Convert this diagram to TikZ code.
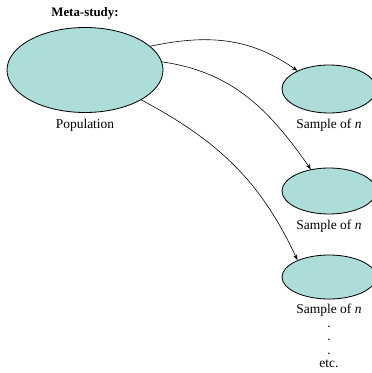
\documentclass[tikz,border=0pt]{standalone}
\usepackage{fontspec}
\setmainfont{Liberation Serif}
\usepackage{tikz}
\usetikzlibrary{arrows.meta,positioning,shapes.geometric}
\definecolor{popfill}{RGB}{172,221,216}

\begin{document}
\begin{tikzpicture}[x=0.03cm,y=-0.03cm,
  blob/.style={ellipse,draw=black,line width=0.7pt,fill=popfill,inner sep=0pt},
  lbl/.style={font=\fontsize{11.5}{11.5}\selectfont,inner sep=0pt},
  pick/.style={draw=black,line width=0.5pt,-{Stealth[length=5pt,width=3.5pt]}}]
\useasboundingbox (0,0) rectangle (371,373);
\node[blob,minimum width=4.68cm,minimum height=2.55cm] (pop) at (85,70) {};
\node[lbl,font=\fontsize{11}{12}\selectfont\bfseries] (meta) at (85,13) {Meta-study:};
\node[lbl,below=5pt of pop] (poplbl) {Population};
\node[blob,minimum width=2.82cm,minimum height=1.44cm] (s1) at (329,89) {};
\node[blob,minimum width=2.82cm,minimum height=1.38cm] (s2) at (329,191) {};
\node[blob,minimum width=2.82cm,minimum height=1.32cm] (s3) at (329,277) {};
\node[lbl,below=5pt of s1] (s1lbl) {Sample of \textit{n}};
\node[lbl,below=5pt of s2] (s2lbl) {Sample of \textit{n}};
\node[lbl,below=4pt of s3,anchor=north,align=center] (s3lbl) {Sample of \textit{n}\\.\\.\\.\\etc.};
% draws from the population
\draw[pick] (pop.20) to[out=12,in=145] (s1.150);
\draw[pick] (pop.6) to[out=-8,in=125] (s2.130);
\draw[pick] (pop.-28) to[out=-28,in=115] (s3.152);
\end{tikzpicture}
\end{document}
